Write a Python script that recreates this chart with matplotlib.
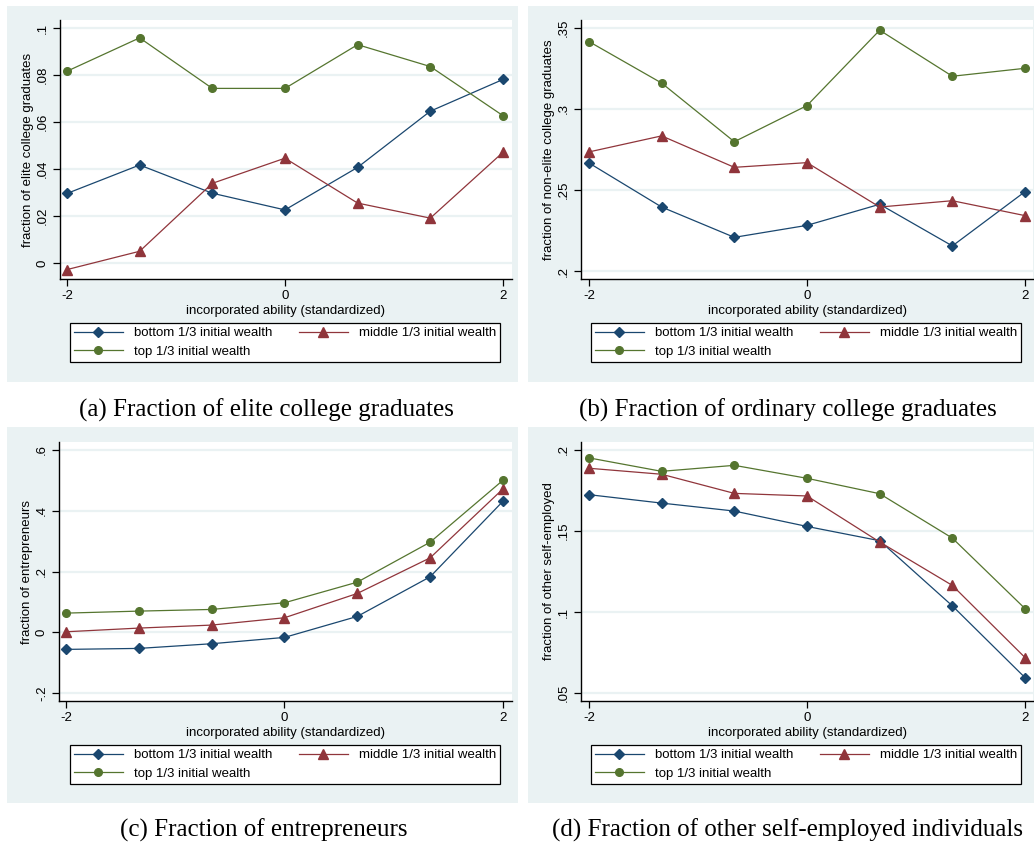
import matplotlib
matplotlib.use("Agg")
import matplotlib.pyplot as plt
from matplotlib.patches import Rectangle

# ability grid (standardized), seven points from -2 to 2
ability = [-2, -4 / 3, -2 / 3, 0, 2 / 3, 4 / 3, 2]

# (a) elite college graduates
elite_bottom = [0.0296, 0.0417, 0.0297, 0.0226, 0.0407, 0.0646, 0.0781]
elite_middle = [-0.0028, 0.0050, 0.0339, 0.0446, 0.0255, 0.0191, 0.0471]
elite_top = [0.0816, 0.0958, 0.0743, 0.0743, 0.0929, 0.0836, 0.0627]

# (b) ordinary (non-elite) college graduates
ordinary_bottom = [0.2667, 0.2395, 0.2208, 0.2282, 0.2412, 0.2155, 0.2490]
ordinary_middle = [0.2735, 0.2834, 0.2640, 0.2669, 0.2395, 0.2434, 0.2342]
ordinary_top = [0.3416, 0.3160, 0.2798, 0.3021, 0.3486, 0.3202, 0.3251]

# (c) entrepreneurs
entre_bottom = [-0.0564, -0.0532, -0.0378, -0.0170, 0.0521, 0.1825, 0.4312]
entre_middle = [0.0016, 0.0137, 0.0236, 0.0477, 0.1277, 0.2449, 0.4718]
entre_top = [0.0630, 0.0696, 0.0751, 0.0970, 0.1649, 0.2964, 0.5003]

# (d) other self-employed
selfemp_bottom = [0.1724, 0.1672, 0.1623, 0.1528, 0.1440, 0.1038, 0.0595]
selfemp_middle = [0.1887, 0.1850, 0.1732, 0.1716, 0.1432, 0.1164, 0.0719]
selfemp_top = [0.1951, 0.1868, 0.1905, 0.1825, 0.1730, 0.1456, 0.1021]

series_labels = ["bottom 1/3 initial wealth", "middle 1/3 initial wealth",
                 "top 1/3 initial wealth"]
x_ticks = [-2, 0, 2]
x_title = "incorporated ability (standardized)"

elite_yticks = [0, 0.02, 0.04, 0.06, 0.08, 0.1]
ordinary_yticks = [0.2, 0.25, 0.3, 0.35]
entre_yticks = [-0.2, 0, 0.2, 0.4, 0.6]
selfemp_yticks = [0.05, 0.1, 0.15, 0.2]

W, H = 1034, 846
BG = "#EAF2F3"
COLORS = ["#1a476f", "#90353b", "#55752f"]
MARKERS = ["D", "^", "o"]
MSIZES = [5.5, 6.5, 5.5]

plt.rcParams["font.family"] = ["Liberation Sans", "DejaVu Sans"]


def fig_rect(x0, y0, x1, y1):
    """pixel box (top-left origin) -> figure fraction [left, bottom, w, h]"""
    return [x0 / W, 1 - y1 / H, (x1 - x0) / W, (y1 - y0) / H]


def fmt(v):
    s = f"{v:g}"
    if s.startswith("0."):
        s = s[1:]
    elif s.startswith("-0."):
        s = "-" + s[2:]
    return s


def draw_panel(fig, box, plot, legend_box, ys, yticks, ylim, xlim, ylabel, caption, cap_xy):
    fig.patches.append(Rectangle((box[0], box[1]), box[2], box[3],
                                 transform=fig.transFigure, facecolor=BG,
                                 edgecolor="none", zorder=-5))
    ax = fig.add_axes(plot)
    ax.set_zorder(2)
    ax.set_facecolor("white")
    lines = []
    for y, c, m, ms, lab in zip(ys, COLORS, MARKERS, MSIZES, series_labels):
        ln, = ax.plot(ability, y, color=c, marker=m, markersize=ms, linewidth=0.9,
                      label=lab, zorder=3)
        lines.append(ln)
    ax.set_xlim(xlim)
    ax.set_ylim(ylim)
    ax.set_xticks(x_ticks)
    ax.set_xticklabels([fmt(t) for t in x_ticks])
    ax.set_yticks(yticks)
    ax.set_yticklabels([fmt(t) for t in yticks], rotation=90, va="center")
    for t in yticks:
        ax.axhline(t, color=BG, linewidth=1.6, zorder=1)
    for side in ("top", "right"):
        ax.spines[side].set_visible(False)
    for side in ("left", "bottom"):
        ax.spines[side].set_linewidth(1.0)
        ax.spines[side].set_color("black")
    ax.tick_params(axis="both", direction="out", length=5, width=0.9,
                   labelsize=9.5, pad=3)
    ax.set_xlabel(x_title, fontsize=9.5, labelpad=2)
    ax.set_ylabel(ylabel, fontsize=9.5, labelpad=2)
    # legend fills row by row: bottom, middle / top
    order = [lines[0], lines[2], lines[1]]
    leg = ax.legend(order, [l.get_label() for l in order],
                    loc="center", mode="expand", ncol=2,
                    bbox_to_anchor=legend_box, bbox_transform=fig.transFigure,
                    fontsize=9.5, frameon=True, fancybox=False, framealpha=1,
                    edgecolor="black", handlelength=3.7, borderpad=0.3,
                    labelspacing=0.5, handletextpad=0.85, columnspacing=1.5,
                    borderaxespad=0)
    leg.get_frame().set_linewidth(0.9)
    fig.text(cap_xy[0] / W, 1 - cap_xy[1] / H, caption, ha="center", va="center",
             fontsize=18, family=["Liberation Serif", "DejaVu Serif"])
    return ax


fig = plt.figure(figsize=(W / 100, H / 100), dpi=100)
fig.patch.set_facecolor("white")

# top-left: elite graduates
draw_panel(fig, fig_rect(7, 6, 518, 382), fig_rect(60, 20, 512, 279),
           fig_rect(70, 322, 500, 363),
           [elite_bottom, elite_middle, elite_top], elite_yticks,
           (-0.0068, 0.1034), (-2.064, 2.083),
           "fraction of elite college graduates",
           "(a) Fraction of elite college graduates", (266, 410))

# top-right: ordinary graduates
draw_panel(fig, fig_rect(528, 6, 1034, 382), fig_rect(581, 20, 1033, 279),
           fig_rect(591, 322, 1021, 363),
           [ordinary_bottom, ordinary_middle, ordinary_top], ordinary_yticks,
           (0.1951, 0.3549), (-2.073, 2.073),
           "fraction of non-elite college graduates",
           "(b) Fraction of ordinary college graduates", (788, 410))

# bottom-left: entrepreneurs
draw_panel(fig, fig_rect(7, 427, 518, 803), fig_rect(59, 442, 512, 701),
           fig_rect(70, 743, 500, 786),
           [entre_bottom, entre_middle, entre_top], entre_yticks,
           (-0.2263, 0.6263), (-2.064, 2.083),
           "fraction of entrepreneurs",
           "(c) Fraction of entrepreneurs", (264, 830))

# bottom-right: other self-employed
draw_panel(fig, fig_rect(528, 427, 1034, 803), fig_rect(581, 442, 1033, 701),
           fig_rect(591, 743, 1021, 786),
           [selfemp_bottom, selfemp_middle, selfemp_top], selfemp_yticks,
           (0.0451, 0.2049), (-2.073, 2.073),
           "fraction of other self-employed",
           "(d) Fraction of other self-employed individuals", (788, 830))

fig.savefig("out.png", dpi=100, facecolor="white")
